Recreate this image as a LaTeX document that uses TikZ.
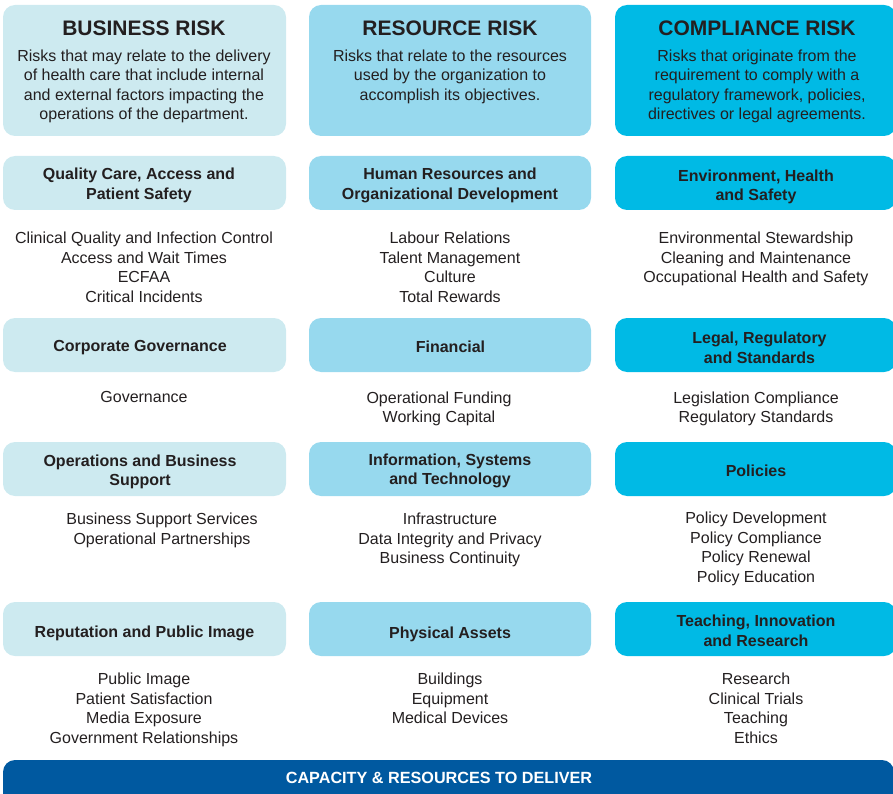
\documentclass[tikz,border=0pt]{standalone}
\usepackage{fontspec}
\setmainfont{Liberation Sans}
\usepackage{tikz}
\usetikzlibrary{positioning}
\definecolor{bizcol}{RGB}{205,234,240}
\definecolor{rescol}{RGB}{151,217,238}
\definecolor{comcol}{RGB}{0,186,229}
\definecolor{barcol}{RGB}{0,89,160}
\definecolor{txtcol}{RGB}{35,31,32}
\tikzset{
    %Define style for header boxes
    headbox/.style={
           rectangle,
           rounded corners=12pt,
           minimum width=283pt,
           minimum height=131pt,
           inner sep=0pt},
    headtitle/.style={
           font=\fontsize{21}{24}\selectfont\bfseries,
           text=txtcol,
           inner sep=0pt},
    headtext/.style={
           font=\fontsize{16}{19.5}\selectfont,
           text=txtcol,
           align=center,
           inner sep=0pt},
    %Define style for category boxes
    catbox/.style={
           rectangle,
           rounded corners=12pt,
           minimum width=283pt,
           minimum height=54pt,
           inner sep=0pt},
    cattext/.style={
           font=\fontsize{16}{19.5}\selectfont\bfseries,
           text=txtcol,
           align=center,
           inner sep=0pt},
    %Define style for item lists
    items/.style={
           font=\fontsize{16}{19.5}\selectfont,
           text=txtcol,
           align=center,
           anchor=north,
           inner sep=0pt}
}
\begin{document}
\begin{tikzpicture}[x=1pt,y=-1pt]
\clip (0,0) rectangle (893,794);

 %header boxes
\node[headbox, fill=bizcol](biz) at (144.5,70.5){};
\node[headbox, fill=rescol, minimum width=282pt](res) at (450,70.5){};
\node[headbox, fill=comcol, minimum width=281pt](com) at (755.5,70.5){};

\node[headtitle](bizT) at (144,28){BUSINESS RISK};
\node[headtitle](resT) at (450,28){RESOURCE RISK};
\node[headtitle](comT) at (757,28){COMPLIANCE RISK};

\node[headtext, below=14pt of bizT](bizD){Risks that may relate to the delivery\\of health care that include internal\\and external factors impacting the\\operations of the department.};
\node[headtext, below=14pt of resT](resD){Risks that relate to the resources\\used by the organization to\\accomplish its objectives.};
\node[headtext, below=14pt of comT](comD){Risks that originate from the\\requirement to comply with a\\regulatory framework, policies,\\directives or legal agreements.};

 %category boxes
\node[catbox, fill=bizcol](qual) at (144.5,183){};
\node[catbox, fill=rescol, minimum width=282pt](hr) at (450,183){};
\node[catbox, fill=comcol, minimum width=281pt](env) at (755.5,183){};
\node[catbox, fill=bizcol](gov) at (144.5,345){};
\node[catbox, fill=rescol, minimum width=282pt](fin) at (450,345){};
\node[catbox, fill=comcol, minimum width=281pt](leg) at (755.5,345){};
\node[catbox, fill=bizcol](ops) at (144.5,469){};
\node[catbox, fill=rescol, minimum width=282pt](ist) at (450,469){};
\node[catbox, fill=comcol, minimum width=281pt](pol) at (755.5,469){};
\node[catbox, fill=bizcol](rep) at (144.5,629){};
\node[catbox, fill=rescol, minimum width=282pt](phy) at (450,629){};
\node[catbox, fill=comcol, minimum width=281pt](teach) at (755.5,629){};

\node[cattext](qualT) at (139,185.5){Quality Care, Access and\\Patient Safety};
\node[cattext](hrT) at (450,185.5){Human Resources and\\Organizational Development};
\node[cattext](envT) at (756,187){Environment, Health\\and Safety};
\node[cattext](govT) at (140,347.5){Corporate Governance};
\node[cattext](finT) at (450.5,346.5){Financial};
\node[cattext](legT) at (759.5,348){Legal, Regulatory\\and Standards};
\node[cattext](opsT) at (140,472){Operations and Business\\Support};
\node[cattext](istT) at (450,471){Information, Systems\\and Technology};
\node[cattext](polT) at (756,470.5){Policies};
\node[cattext](repT) at (144.5,633.5){Reputation and Public Image};
\node[cattext](phyT) at (450,634.5){Physical Assets};
\node[cattext](teachT) at (756,631){Teaching, Innovation\\and Research};

 %item lists
\node[items](qualL) at (144,232){Clinical Quality and Infection Control\\Access and Wait Times\\ECFAA\\Critical Incidents};
\node[items](hrL) at (450,232){Labour Relations\\Talent Management\\Culture\\Total Rewards};
\node[items](envL) at (756,232){Environmental Stewardship\\Cleaning and Maintenance\\Occupational Health and Safety};

\node[items](govL) at (144,391.5){Governance};
\node[items](finL) at (439,391.5){Operational Funding\\Working Capital};
\node[items](legL) at (756,391.5){Legislation Compliance\\Regulatory Standards};

\node[items](opsL) at (162,513){Business Support Services\\Operational Partnerships};
\node[items](istL) at (450,513){Infrastructure\\Data Integrity and Privacy\\Business Continuity};
\node[items](polL) at (756,512){Policy Development\\Policy Compliance\\Policy Renewal\\Policy Education};

\node[items](repL) at (144,673){Public Image\\Patient Satisfaction\\Media Exposure\\Government Relationships};
\node[items](phyL) at (450,673){Buildings\\Equipment\\Medical Devices};
\node[items](teachL) at (756,673){Research\\Clinical Trials\\Teaching\\Ethics};

 %bottom bar
\node[rectangle, rounded corners=12pt, fill=barcol, minimum width=891pt, minimum height=60pt, inner sep=0pt](cap) at (448.5,790){};
\node[font=\fontsize{16.2}{18}\selectfont\bfseries, text=white, inner sep=0pt](capT) at (439,778){CAPACITY \& RESOURCES TO DELIVER};

\end{tikzpicture}
\end{document}
